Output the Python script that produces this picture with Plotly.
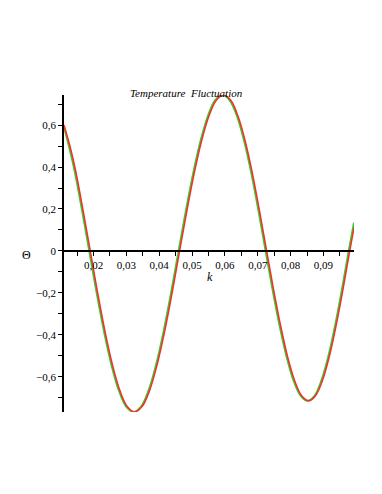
import plotly.graph_objects as go

# curve values
k_green = [0.011, 0.0125, 0.014, 0.0155, 0.017, 0.0187,
           0.02095, 0.0232, 0.02545, 0.0277, 0.02995, 0.0322,
           0.03448, 0.03677, 0.03905, 0.04133, 0.04362, 0.0459,
           0.04813, 0.05037, 0.0526, 0.05483, 0.05707, 0.0593,
           0.06148, 0.06367, 0.06585, 0.06803, 0.07022, 0.0724,
           0.07453, 0.07667, 0.0788, 0.08093, 0.08307, 0.0852,
           0.08728, 0.08937, 0.09145, 0.09353, 0.09562, 0.0977, 0.0993]
theta_green = [0.59, 0.50, 0.40, 0.28, 0.151, 0.0,
               -0.199, -0.384, -0.542, -0.664, -0.741, -0.767,
               -0.741, -0.664, -0.542, -0.384, -0.199, 0.0,
               0.192, 0.372, 0.525, 0.643, 0.718, 0.743,
               0.718, 0.643, 0.525, 0.372, 0.192, 0.0,
               -0.185, -0.357, -0.505, -0.618, -0.690, -0.714,
               -0.690, -0.618, -0.505, -0.357, -0.185, 0.0, 0.135]

k_red = [0.011, 0.0128, 0.0143, 0.0158, 0.0173, 0.019,
         0.02125, 0.0235, 0.02575, 0.028, 0.03025, 0.0325,
         0.03478, 0.03707, 0.03935, 0.04163, 0.04392, 0.0462,
         0.04843, 0.05067, 0.0529, 0.05513, 0.05737, 0.0596,
         0.06178, 0.06397, 0.06615, 0.06833, 0.07052, 0.0727,
         0.07483, 0.07697, 0.0791, 0.08123, 0.08337, 0.0855,
         0.08758, 0.08967, 0.09175, 0.09383, 0.09592, 0.098, 0.0993]
theta_red = [0.60, 0.50, 0.40, 0.28, 0.151, 0.0,
             -0.199, -0.384, -0.542, -0.664, -0.741, -0.767,
             -0.741, -0.664, -0.542, -0.384, -0.199, 0.0,
             0.192, 0.372, 0.525, 0.643, 0.718, 0.743,
             0.718, 0.643, 0.525, 0.372, 0.192, 0.0,
             -0.185, -0.357, -0.505, -0.618, -0.690, -0.714,
             -0.690, -0.618, -0.505, -0.357, -0.185, 0.0, 0.11]

x_ticks = [0.02, 0.03, 0.04, 0.05, 0.06, 0.07, 0.08, 0.09]
x_labels = ['0,02', '0,03', '0,04', '0,05', '0,06', '0,07', '0,08', '0,09']
y_ticks = [-0.6, -0.4, -0.2, 0, 0.2, 0.4, 0.6]
y_labels = ['\u22120,6', '\u22120,4', '\u22120,2', '0', '0,2', '0,4', '0,6']

x_range = [0.011, 0.0993]
y_range = [-0.767, 0.743]

serif = 'Liberation Serif, Times New Roman, serif'

fig = go.Figure()
fig.add_trace(go.Scatter(x=k_green, y=theta_green, mode='lines',
                         line=dict(color='#33cc33', width=2, shape='spline'),
                         showlegend=False))
fig.add_trace(go.Scatter(x=k_red, y=theta_red, mode='lines',
                         line=dict(color='#ff2a2a', width=1.5, shape='spline'),
                         showlegend=False))

# x axis crosses at theta = 0
zero_pos = (0 - y_range[0]) / (y_range[1] - y_range[0])

fig.update_xaxes(
    range=x_range, anchor='free', position=zero_pos,
    showline=True, linecolor='black', linewidth=1.5,
    tickmode='array', tickvals=x_ticks, ticktext=x_labels,
    ticks='outside', ticklen=4, tickcolor='black',
    minor=dict(tickmode='linear', tick0=0, dtick=0.005, ticks='outside',
               ticklen=4, tickcolor='black'),
    showgrid=False, zeroline=False,
    tickfont=dict(family=serif, size=11, color='black')
)
fig.update_yaxes(
    range=y_range,
    showline=True, linecolor='black', linewidth=1.5,
    tickmode='array', tickvals=y_ticks, ticktext=y_labels,
    ticks='outside', ticklen=4, tickcolor='black',
    minor=dict(tickmode='linear', tick0=0, dtick=0.1, ticks='outside',
               ticklen=4, tickcolor='black'),
    showgrid=False, zeroline=False,
    tickfont=dict(family=serif, size=11, color='black')
)

# title and axis labels (plot area is 290 x 317 px)
fig.add_annotation(text='<i>Temperature  Fluctuation</i>',
                   x=(185 - 63) / 290, y=1 + (95 - 85) / 317,
                   xref='paper', yref='paper', showarrow=False,
                   font=dict(family=serif, size=11, color='black'))
fig.add_annotation(text='<i>k</i>',
                   x=(209 - 63) / 290, y=1 - (277 - 95) / 317,
                   xref='paper', yref='paper', showarrow=False,
                   font=dict(family=serif, size=12, color='black'))
fig.add_annotation(text='\u0398',
                   x=(19 - 63) / 290, y=1 - (255 - 95) / 317,
                   xref='paper', yref='paper', showarrow=False,
                   font=dict(family=serif, size=12, color='black'))

# page body adds ~8px offset, so margins are shifted to compensate
fig.update_layout(
    width=382, height=494,
    margin=dict(l=56, r=36, t=87, b=90),
    font=dict(family=serif, color='black'),
    plot_bgcolor='white', paper_bgcolor='white'
)

fig.write_html('out.html')
